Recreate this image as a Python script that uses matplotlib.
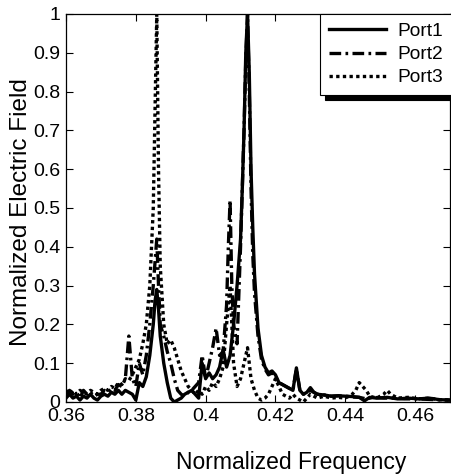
import matplotlib
matplotlib.use("Agg")
import matplotlib.pyplot as plt

plt.rcParams['font.family'] = ['Liberation Sans', 'DejaVu Sans']

# ---- data ----
f1 = [0.360, 0.361, 0.362, 0.363, 0.364, 0.365, 0.366, 0.367, 0.368, 0.369,
      0.370, 0.371, 0.372, 0.373, 0.374, 0.375, 0.376, 0.377, 0.378, 0.379,
      0.380, 0.381, 0.382, 0.383, 0.384, 0.385, 0.3855, 0.386, 0.3865, 0.387, 0.388, 0.389,
      0.390, 0.391, 0.392, 0.393, 0.394, 0.395, 0.396, 0.397, 0.398, 0.399,
      0.400, 0.401, 0.402, 0.403, 0.404, 0.405, 0.406, 0.407, 0.408, 0.409,
      0.410, 0.4105, 0.411, 0.4115, 0.412, 0.4125, 0.413, 0.4135, 0.414, 0.415,
      0.416, 0.417, 0.418, 0.419, 0.420, 0.421, 0.422, 0.423, 0.424, 0.425,
      0.426, 0.427, 0.428, 0.429, 0.430, 0.431, 0.432, 0.434, 0.436, 0.438,
      0.440, 0.442, 0.444, 0.4455, 0.447, 0.449, 0.452, 0.455, 0.458, 0.461,
      0.464, 0.467, 0.470]
p1 = [0.010, 0.020, 0.010, 0.015, 0.005, 0.015, 0.010, 0.020, 0.010, 0.005,
      0.015, 0.020, 0.015, 0.025, 0.020, 0.030, 0.020, 0.030, 0.025, 0.020,
      0.005, 0.050, 0.040, 0.065, 0.120, 0.200, 0.260, 0.290, 0.240, 0.170, 0.100, 0.050,
      0.010, 0.000, 0.005, 0.010, 0.020, 0.025, 0.030, 0.020, 0.010, 0.100,
      0.060, 0.075, 0.060, 0.070, 0.090, 0.135, 0.090, 0.120, 0.200, 0.300,
      0.420, 0.550, 0.700, 0.900, 1.000, 0.850, 0.600, 0.450, 0.330, 0.190,
      0.120, 0.090, 0.075, 0.080, 0.070, 0.050, 0.045, 0.040, 0.035, 0.030,
      0.088, 0.030, 0.020, 0.025, 0.037, 0.025, 0.020, 0.018, 0.015, 0.016,
      0.015, 0.014, 0.012, 0.003, 0.012, 0.010, 0.012, 0.008, 0.010, 0.008,
      0.010, 0.006, 0.005]

f2 = [0.360, 0.361, 0.362, 0.363, 0.364, 0.365, 0.366, 0.367, 0.368, 0.369,
      0.370, 0.371, 0.372, 0.373, 0.374, 0.375, 0.376, 0.377, 0.378, 0.379,
      0.380, 0.381, 0.382, 0.383, 0.384, 0.385, 0.3855, 0.386, 0.3865, 0.387, 0.388, 0.389,
      0.390, 0.391, 0.392, 0.393, 0.394, 0.395, 0.396, 0.397, 0.398, 0.399,
      0.400, 0.401, 0.402, 0.403, 0.404, 0.405, 0.406, 0.4065, 0.407, 0.4075,
      0.408, 0.409, 0.410, 0.4105, 0.411, 0.4115, 0.412, 0.4125, 0.413, 0.4135,
      0.414, 0.415, 0.416, 0.417, 0.418, 0.419, 0.420, 0.421, 0.422, 0.423,
      0.424, 0.425, 0.426, 0.427, 0.428, 0.430, 0.432, 0.434, 0.436, 0.438,
      0.440, 0.442, 0.444, 0.446, 0.448, 0.451, 0.454, 0.457, 0.460, 0.463,
      0.466, 0.470]
p2 = [0.020, 0.030, 0.020, 0.025, 0.010, 0.030, 0.020, 0.025, 0.015, 0.020,
      0.020, 0.030, 0.025, 0.035, 0.030, 0.045, 0.040, 0.060, 0.170, 0.060,
      0.040, 0.100, 0.070, 0.120, 0.200, 0.300, 0.360, 0.420, 0.300, 0.200, 0.170, 0.130,
      0.100, 0.060, 0.030, 0.020, 0.015, 0.025, 0.030, 0.040, 0.050, 0.120,
      0.060, 0.100, 0.140, 0.190, 0.120, 0.130, 0.250, 0.400, 0.520, 0.300,
      0.200, 0.150, 0.400, 0.550, 0.700, 0.880, 1.000, 0.800, 0.550, 0.380,
      0.280, 0.170, 0.110, 0.085, 0.070, 0.075, 0.065, 0.050, 0.045, 0.040,
      0.035, 0.030, 0.085, 0.030, 0.020, 0.030, 0.020, 0.018, 0.015, 0.016,
      0.015, 0.013, 0.012, 0.008, 0.012, 0.010, 0.010, 0.008, 0.008, 0.007,
      0.006, 0.005]

f3 = [0.360, 0.361, 0.362, 0.363, 0.364, 0.365, 0.366, 0.367, 0.368, 0.369,
      0.370, 0.371, 0.372, 0.373, 0.374, 0.375, 0.376, 0.377, 0.378, 0.379,
      0.380, 0.381, 0.382, 0.383, 0.384, 0.385, 0.3855, 0.386, 0.3865, 0.387, 0.388, 0.389,
      0.390, 0.391, 0.392, 0.393, 0.394, 0.395, 0.396, 0.397, 0.398, 0.399,
      0.400, 0.401, 0.402, 0.403, 0.404, 0.405, 0.406, 0.407, 0.408, 0.409,
      0.410, 0.411, 0.412, 0.413, 0.414, 0.415, 0.416, 0.417, 0.418, 0.419,
      0.420, 0.421, 0.422, 0.423, 0.424, 0.425, 0.426, 0.427, 0.428, 0.429,
      0.430, 0.432, 0.434, 0.436, 0.438, 0.440, 0.442, 0.443, 0.444, 0.445,
      0.446, 0.447, 0.449, 0.451, 0.452, 0.453, 0.455, 0.458, 0.461, 0.464,
      0.467, 0.470]
p3 = [0.030, 0.020, 0.030, 0.020, 0.030, 0.025, 0.020, 0.030, 0.025, 0.020,
      0.030, 0.035, 0.030, 0.040, 0.035, 0.050, 0.045, 0.060, 0.055, 0.070,
      0.090, 0.110, 0.150, 0.200, 0.300, 0.500, 0.750, 1.000, 0.600, 0.350, 0.200, 0.150,
      0.160, 0.140, 0.110, 0.080, 0.060, 0.040, 0.030, 0.020, 0.030, 0.020,
      0.040, 0.030, 0.050, 0.040, 0.060, 0.090, 0.200, 0.300, 0.100, 0.040,
      0.060, 0.100, 0.140, 0.060, 0.030, 0.010, 0.005, 0.010, 0.020, 0.040,
      0.060, 0.040, 0.020, 0.015, 0.010, 0.020, 0.010, 0.005, 0.000, 0.010,
      0.020, 0.010, 0.015, 0.010, 0.012, 0.010, 0.020, 0.030, 0.050, 0.040,
      0.030, 0.015, 0.010, 0.020, 0.030, 0.020, 0.010, 0.012, 0.008, 0.010,
      0.006, 0.005]

labels = ['Port1', 'Port2', 'Port3']
xticks = [0.36, 0.38, 0.40, 0.42, 0.44, 0.46]
xticklabels = ['0.36', '0.38', '0.4', '0.42', '0.44', '0.46']
yticks = [0, 0.1, 0.2, 0.3, 0.4, 0.5, 0.6, 0.7, 0.8, 0.9, 1.0]
yticklabels = ['0', '0.1', '0.2', '0.3', '0.4', '0.5', '0.6', '0.7', '0.8', '0.9', '1']

W, H = 451, 474
fig = plt.figure(figsize=(W / 100, H / 100), dpi=100)
ax_l, ax_r, ax_t, ax_b = 66, 450, 14, 402
ax = fig.add_axes([ax_l / W, 1 - ax_b / H, (ax_r - ax_l) / W, (ax_b - ax_t) / H])

lw = 2.4
ax.plot(f1, p1, color='black', lw=lw, linestyle='-', label=labels[0])
ax.plot(f2, p2, color='black', lw=lw, linestyle=(0, (3.5, 1.3, 0.8, 1.3)), label=labels[1])
ax.plot(f3, p3, color='black', lw=lw, linestyle=(0, (1, 1)), label=labels[2])

ax.set_xlim(0.36, 0.47)
ax.set_ylim(0, 1)
ax.set_xticks(xticks)
ax.set_xticklabels(xticklabels)
ax.set_yticks(yticks)
ax.set_yticklabels(yticklabels)
ax.tick_params(direction='in', top=True, right=True, length=5, width=0.8,
               labelsize=14, pad=4)
for s in ax.spines.values():
    s.set_linewidth(0.9)

ax.set_xlabel('Normalized Frequency', fontsize=16.5)
ax.xaxis.set_label_coords((291 - ax_l) / (ax_r - ax_l), -(462 - ax_b) / (ax_b - ax_t))
ax.xaxis.label.set_va('center')
ax.set_ylabel('Normalized Electric Field', fontsize=17.5)
ax.yaxis.set_label_coords(-(ax_l - 21) / (ax_r - ax_l), (ax_b - 212) / (ax_b - ax_t))
ax.yaxis.label.set_va('center')

leg = ax.legend(loc='upper right', fontsize=13.8, frameon=True, fancybox=False,
                bbox_to_anchor=(1.005, 1.0), borderaxespad=0.0,
                handlelength=3.0, handletextpad=0.6,
                labelspacing=0.3, borderpad=0.45,
                shadow={'color': 'black', 'alpha': 1.0, 'ox': 3.5, 'oy': -3.5})
leg.get_frame().set_edgecolor('black')
leg.get_frame().set_linewidth(0.8)

fig.savefig('out.png', dpi=100)
